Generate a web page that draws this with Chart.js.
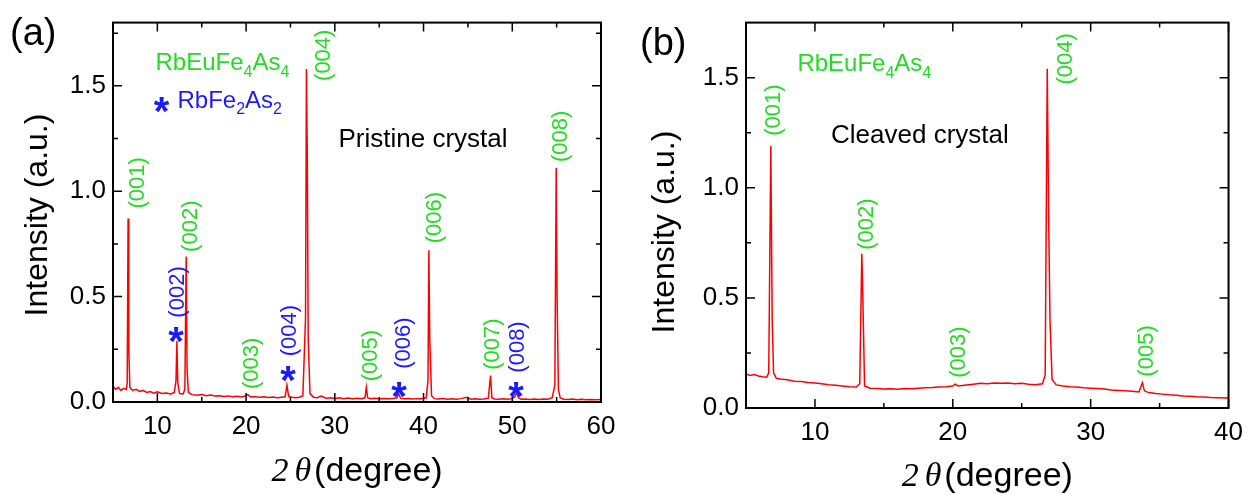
<!DOCTYPE html>
<html>
<head>
<meta charset="utf-8">
<script src="https://cdn.jsdelivr.net/npm/chart.js@4.4.1/dist/chart.umd.min.js"></script>
<style>
    body { margin: 0; background: #fff; }
    .panel { position: absolute; top: 0; width: 626px; height: 495px; }
    #panel-a { left: 0; }
    #panel-b { left: 626px; }
</style>
</head>
<body>
<div class="panel" id="panel-a"><canvas id="chart-a" width="626" height="495"></canvas></div>
<div class="panel" id="panel-b"><canvas id="chart-b" width="626" height="495"></canvas></div>
<script>
// (a) pristine crystal scan, 2theta (deg) vs intensity (a.u.)
const pristineX = [5.0, 5.3, 5.6, 5.9, 6.2, 6.5, 6.6, 6.7, 6.78, 6.9, 7.2, 7.6, 8.0, 8.4, 8.8, 9.2, 9.6, 10.0, 10.5, 11.0,
    11.5, 11.9, 12.1, 12.2, 12.3, 12.5, 12.9, 13.1, 13.25, 13.35, 13.5, 13.9, 14.5, 15.0, 15.5, 16.0, 16.5, 17.0, 17.5, 18.0,
    18.5, 19.0, 19.5, 20.0, 20.2, 20.5, 21.0, 21.5, 22.0, 22.5, 23.0, 23.5, 24.0, 24.4, 24.6, 24.8, 25.2, 25.6, 26.0, 26.4,
    26.7, 26.8, 26.9, 27.0, 27.2, 27.6, 28.0, 28.5, 29.0, 29.5, 30.0, 30.5, 31.0, 31.5, 32.0, 32.5, 33.0, 33.4, 33.55, 33.7,
    34.0, 34.5, 35.0, 35.5, 36.0, 36.5, 37.0, 37.2, 37.4, 37.8, 38.3, 38.8, 39.3, 39.8, 40.3, 40.5, 40.6, 40.7, 40.9, 41.2,
    41.7, 42.2, 42.7, 43.2, 43.7, 44.2, 44.9, 45.3, 45.8, 46.3, 46.8, 47.3, 47.55, 47.7, 48.0, 48.5, 49.0, 49.5, 50.0, 50.3,
    50.5, 50.7, 51.0, 51.5, 52.0, 52.5, 53.0, 53.5, 54.0, 54.5, 54.8, 54.95, 55.05, 55.2, 55.4, 55.8, 56.3, 56.8, 57.3, 57.8,
    58.3, 58.8, 59.3, 60.0];
const pristineY = [0.075, 0.06, 0.07, 0.055, 0.065, 0.06, 0.09, 0.87, 0.25, 0.07, 0.055, 0.06, 0.05, 0.055, 0.045, 0.05, 0.042, 0.048, 0.04, 0.043,
    0.038, 0.045, 0.1, 0.29, 0.09, 0.04, 0.038, 0.06, 0.69, 0.15, 0.045, 0.035, 0.032, 0.036, 0.03, 0.033, 0.028, 0.03, 0.026, 0.029,
    0.025, 0.027, 0.024, 0.03, 0.035, 0.024, 0.026, 0.022, 0.025, 0.021, 0.024, 0.02, 0.023, 0.025, 0.08, 0.025, 0.022, 0.02, 0.023, 0.03,
    0.4, 1.58, 1.15, 0.3, 0.04, 0.022, 0.02, 0.028, 0.018, 0.02, 0.017, 0.02, 0.016, 0.019, 0.016, 0.018, 0.016, 0.02, 0.07, 0.02,
    0.016, 0.018, 0.015, 0.017, 0.015, 0.017, 0.02, 0.04, 0.018, 0.015, 0.017, 0.014, 0.016, 0.015, 0.02, 0.1, 0.72, 0.3, 0.03, 0.016,
    0.014, 0.016, 0.013, 0.015, 0.013, 0.016, 0.022, 0.013, 0.015, 0.013, 0.014, 0.018, 0.125, 0.02, 0.014, 0.013, 0.015, 0.013, 0.016, 0.025,
    0.045, 0.02, 0.013, 0.014, 0.012, 0.014, 0.012, 0.014, 0.013, 0.02, 0.08, 1.11, 0.5, 0.06, 0.02, 0.013, 0.012, 0.014, 0.011, 0.013,
    0.011, 0.012, 0.011, 0.012];

// (b) cleaved crystal scan
const cleavedX = [5.0, 5.3, 5.6, 5.9, 6.2, 6.5, 6.65, 6.8, 6.9, 7.0, 7.2, 7.6, 8.0, 8.5, 9.0, 9.5, 10.0, 10.5, 11.0, 11.5,
    12.0, 12.5, 13.0, 13.25, 13.4, 13.45, 13.6, 14.0, 14.5, 15.0, 15.5, 16.0, 16.5, 17.0, 17.5, 18.0, 18.5, 19.0, 19.5, 20.0,
    20.15, 20.4, 21.0, 21.5, 22.0, 22.5, 23.0, 23.5, 24.0, 24.5, 25.0, 25.5, 26.0, 26.5, 26.7, 26.85, 26.95, 27.05, 27.2, 27.5,
    28.0, 28.5, 29.0, 29.5, 30.0, 30.5, 31.0, 31.5, 32.0, 32.5, 33.0, 33.5, 33.75, 33.9, 34.2, 34.7, 35.2, 35.7, 36.2, 36.7,
    37.2, 37.7, 38.2, 38.7, 39.2, 40.0];
const cleavedY = [0.155, 0.148, 0.152, 0.145, 0.142, 0.14, 0.16, 1.19, 0.4, 0.16, 0.135, 0.13, 0.128, 0.122, 0.12, 0.116, 0.113, 0.11, 0.106, 0.103,
    0.1, 0.097, 0.095, 0.11, 0.70, 0.58, 0.1, 0.09, 0.088, 0.086, 0.087, 0.085, 0.088, 0.087, 0.09, 0.092, 0.093, 0.095, 0.097, 0.1,
    0.108, 0.1, 0.104, 0.108, 0.112, 0.11, 0.113, 0.112, 0.114, 0.11, 0.112, 0.108, 0.106, 0.11, 0.15, 1.54, 0.87, 0.4, 0.13, 0.105,
    0.1, 0.097, 0.095, 0.092, 0.09, 0.088, 0.086, 0.082, 0.08, 0.078, 0.076, 0.073, 0.115, 0.078, 0.07, 0.066, 0.063, 0.06, 0.058, 0.055,
    0.053, 0.051, 0.05, 0.048, 0.047, 0.045];

const xTicksA = [10, 20, 30, 40, 50, 60];
const xMinorA = [15, 25, 35, 45, 55];
const xTicksB = [10, 20, 30, 40];
const xMinorB = [15, 25, 35];
const yTicks = [0, 0.5, 1.0, 1.5];
const yMinorA = [0.25, 0.75, 1.25, 1.75];
const yMinorB = [0.25, 0.75, 1.25];

// peak labels: text, 2theta and intensity of the label centre
const hklA = ['(001)', '(002)', '(003)', '(004)', '(005)', '(006)', '(007)', '(008)'];
const hklAX = [7.82, 13.79, 20.67, 28.78, 34.08, 41.29, 47.83, 55.49];
const hklAY = [1.04, 0.834, 0.183, 1.645, 0.22, 0.875, 0.275, 1.26];
const impurityA = ['(002)', '(004)', '(006)', '(008)'];
const impurityAX = [12.33, 24.95, 37.8, 50.64];
const impurityAY = [0.522, 0.339, 0.279, 0.261];
const starAX = [12.1, 24.72, 37.24, 50.42];
const starAY = [0.33, 0.147, 0.073, 0.069];
const hklB = ['(001)', '(002)', '(003)', '(004)', '(005)'];
const hklBX = [7.01, 13.75, 20.42, 28.24, 34.05];
const hklBY = [1.353, 0.835, 0.254, 1.585, 0.259];

const SANS = '"Liberation Sans", Arial, sans-serif';
const SERIF = '"Liberation Serif", "Times New Roman", serif';
const GREEN = '#22dd22';
const BLUE = '#1a1aff';

function drawFormula(ctx, parts, x, y, size, color) {
    ctx.fillStyle = color;
    ctx.textAlign = 'left';
    ctx.textBaseline = 'alphabetic';
    parts.forEach(([text, sub]) => {
        const s = sub ? Math.round(size * 0.66) : size;
        ctx.font = `${s}px ${SANS}`;
        ctx.fillText(text, x, sub ? y + size * 0.28 : y);
        x += ctx.measureText(text).width;
    });
}

function drawVertical(ctx, text, x, y, font, color) {
    ctx.save();
    ctx.translate(x, y);
    ctx.rotate(-Math.PI / 2);
    ctx.font = font;
    ctx.fillStyle = color;
    ctx.textAlign = 'center';
    ctx.textBaseline = 'middle';
    ctx.fillText(text, 0, 0);
    ctx.restore();
}

function drawStar(ctx, x, y) {
    ctx.font = `bold 40px ${SANS}`;
    ctx.fillStyle = BLUE;
    ctx.textAlign = 'center';
    ctx.textBaseline = 'alphabetic';
    ctx.fillText('*', x, y + 23);
}

function makeDecor(cfg) {
    return {
        id: 'decor',
        afterDraw(chart) {
            const ctx = chart.ctx;
            const a = chart.chartArea;
            const xs = chart.scales.x;
            const ys = chart.scales.y;
            ctx.save();

            // frame
            ctx.strokeStyle = '#000';
            ctx.lineWidth = 2;
            ctx.strokeRect(a.left, a.top, a.right - a.left, a.bottom - a.top);

            // inward ticks on all four sides
            ctx.lineWidth = 1.5;
            const xTick = (v, len) => {
                const p = xs.getPixelForValue(v);
                ctx.beginPath();
                ctx.moveTo(p, a.bottom); ctx.lineTo(p, a.bottom - len);
                ctx.moveTo(p, a.top); ctx.lineTo(p, a.top + len);
                ctx.stroke();
            };
            const yTick = (v, len) => {
                const p = ys.getPixelForValue(v);
                ctx.beginPath();
                ctx.moveTo(a.left, p); ctx.lineTo(a.left + len, p);
                ctx.moveTo(a.right, p); ctx.lineTo(a.right - len, p);
                ctx.stroke();
            };
            cfg.xTicks.forEach(v => xTick(v, 9));
            cfg.xMinor.forEach(v => xTick(v, 5));
            yTicks.forEach(v => yTick(v, 9));
            cfg.yMinor.forEach(v => yTick(v, 5));

            // axis titles
            drawVertical(ctx, 'Intensity (a.u.)', cfg.yTitleX, cfg.yTitleY, `32px ${SANS}`, '#000');
            const cx = (a.left + a.right) / 2;
            ctx.font = `italic 34px ${SERIF}`;
            const w2 = ctx.measureText('2').width;
            const wt = ctx.measureText('\u03b8').width;
            ctx.font = `34px ${SANS}`;
            const wd = ctx.measureText('(degree)').width;
            let tx = cx - (w2 + 6 + wt + 3 + wd) / 2;
            ctx.fillStyle = '#000';
            ctx.textAlign = 'left';
            ctx.textBaseline = 'alphabetic';
            ctx.font = `italic 34px ${SERIF}`;
            ctx.fillText('2', tx, cfg.xTitleY);
            ctx.fillText('\u03b8', tx + w2 + 6, cfg.xTitleY);
            ctx.font = `34px ${SANS}`;
            ctx.fillText('(degree)', tx + w2 + 6 + wt + 3, cfg.xTitleY);

            // panel letter
            ctx.font = `38px ${SANS}`;
            ctx.fillText(cfg.letter, cfg.letterX, cfg.letterY);

            // legend-like notes
            drawFormula(ctx, [['RbEuFe'], ['4', true], ['As'], ['4', true]],
                xs.getPixelForValue(cfg.formulaX), ys.getPixelForValue(cfg.formulaY), 24, GREEN);
            if (cfg.impurity) {
                drawStar(ctx, xs.getPixelForValue(10.47), ys.getPixelForValue(1.425));
                drawFormula(ctx, [['RbFe'], ['2', true], ['As'], ['2', true]],
                    xs.getPixelForValue(12.27), ys.getPixelForValue(1.397), 24, BLUE);
            }
            ctx.font = `26px ${SANS}`;
            ctx.fillStyle = '#000';
            ctx.textAlign = 'left';
            ctx.fillText(cfg.note, xs.getPixelForValue(cfg.noteX), ys.getPixelForValue(cfg.noteY));

            // peak indices
            cfg.hkl.forEach((t, i) => {
                drawVertical(ctx, t, xs.getPixelForValue(cfg.hklX[i]), ys.getPixelForValue(cfg.hklY[i]), `22px ${SANS}`, GREEN);
            });
            if (cfg.impurity) {
                impurityA.forEach((t, i) => {
                    drawVertical(ctx, t, xs.getPixelForValue(impurityAX[i]), ys.getPixelForValue(impurityAY[i]), `22px ${SANS}`, BLUE);
                    drawStar(ctx, xs.getPixelForValue(starAX[i]), ys.getPixelForValue(starAY[i]));
                });
            }
            ctx.restore();
        }
    };
}

function makeChart(canvasId, xs, ys, cfg) {
    const points = xs.map((x, i) => ({ x: x, y: ys[i] }));
    const tickFont = { size: 26, family: SANS };
    return new Chart(document.getElementById(canvasId), {
        type: 'line',
        data: {
            datasets: [{
                data: points,
                borderColor: '#ff0000',
                borderWidth: 1.5,
                pointRadius: 0,
                tension: 0
            }]
        },
        options: {
            responsive: false,
            animation: false,
            layout: { padding: { left: 0, top: cfg.padTop, right: cfg.padRight, bottom: 0 } },
            plugins: { legend: { display: false }, tooltip: { enabled: false } },
            scales: {
                x: {
                    type: 'linear',
                    min: 5,
                    max: cfg.xMax,
                    afterFit: s => { s.height = cfg.xAxisH; },
                    afterBuildTicks: s => { s.ticks = cfg.xTicks.map(v => ({ value: v })); },
                    grid: { display: false, drawTicks: false },
                    border: { display: false },
                    ticks: { font: tickFont, color: '#000', padding: 9, maxRotation: 0 }
                },
                y: {
                    type: 'linear',
                    min: 0,
                    max: cfg.yMax,
                    afterFit: s => { s.width = cfg.yAxisW; },
                    afterBuildTicks: s => { s.ticks = yTicks.map(v => ({ value: v })); },
                    grid: { display: false, drawTicks: false },
                    border: { display: false },
                    ticks: { font: tickFont, color: '#000', padding: 7, callback: v => v.toFixed(1) }
                }
            }
        },
        plugins: [makeDecor(cfg)]
    });
}

makeChart('chart-a', pristineX, pristineY, {
    xMax: 60, yMax: 1.8, padTop: 9, padRight: 25, xAxisH: 93, yAxisW: 113,
    xTicks: xTicksA, xMinor: xMinorA, yMinor: yMinorA,
    yTitleX: 38, yTitleY: 215, xTitleY: 481,
    letter: '(a)', letterX: 10, letterY: 45,
    formulaX: 9.79, formulaY: 1.576, impurity: true,
    note: 'Pristine crystal', noteX: 30.41, noteY: 1.209,
    hkl: hklA, hklX: hklAX, hklY: hklAY
});

makeChart('chart-b', cleavedX, cleavedY, {
    xMax: 40, yMax: 1.75, padTop: 16, padRight: 18, xAxisH: 87, yAxisW: 120,
    xTicks: xTicksB, xMinor: xMinorB, yMinor: yMinorB,
    yTitleX: 39, yTitleY: 232, xTitleY: 486,
    letter: '(b)', letterX: 14, letterY: 55,
    formulaX: 8.73, formulaY: 1.531, impurity: false,
    note: 'Cleaved crystal', noteX: 11.17, noteY: 1.205,
    hkl: hklB, hklX: hklBX, hklY: hklBY
});
</script>
</body>
</html>
